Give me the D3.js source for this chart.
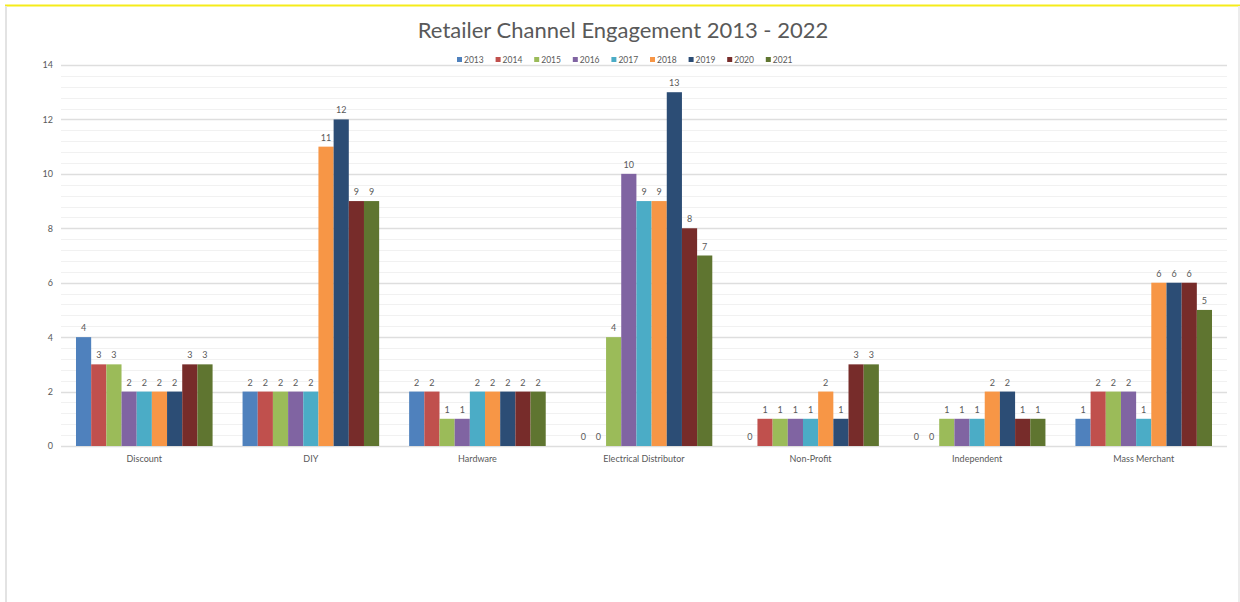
<!DOCTYPE html>
<html>
<head>
<meta charset="utf-8">
<script src="https://cdn.jsdelivr.net/npm/d3@7"></script>
<style>
  body { margin: 0; background: #fff; }
  svg { display: block; font-family: Lato, "Open Sans", sans-serif; }
</style>
</head>
<body>
<div id="chart"></div>
<script>
// Données
const categories = ["Discount", "DIY", "Hardware", "Electrical Distributor", "Non-Profit", "Independent", "Mass Merchant"];
const years = ["2013", "2014", "2015", "2016", "2017", "2018", "2019", "2020", "2021"];
const colors = ["#4f81bd", "#c0504d", "#9bbb59", "#8064a2", "#4bacc6", "#f79646", "#2c4d75", "#772c2a", "#5f7530"];
// une ligne par catégorie, une valeur par année
const values = [
  [4, 3, 3, 2, 2, 2, 2, 3, 3],
  [2, 2, 2, 2, 2, 11, 12, 9, 9],
  [2, 2, 1, 1, 2, 2, 2, 2, 2],
  [0, 0, 4, 10, 9, 9, 13, 8, 7],
  [0, 1, 1, 1, 1, 2, 1, 3, 3],
  [0, 0, 1, 1, 1, 2, 2, 1, 1],
  [1, 2, 2, 2, 1, 6, 6, 6, 5]
];
const yTicks = [0, 2, 4, 6, 8, 10, 12, 14];

const W = 1240, H = 602;
const svg = d3.select("#chart").append("svg")
  .attr("width", W).attr("height", H);

// cadre
svg.append("line").attr("x1", 5).attr("x2", W).attr("y1", 5.5).attr("y2", 5.5)
  .attr("stroke", "#f5ec1a").attr("stroke-width", 2);
svg.append("line").attr("x1", 6).attr("x2", 6).attr("y1", 6).attr("y2", H)
  .attr("stroke", "#e3e3e3").attr("stroke-width", 2);
svg.append("line").attr("x1", 1239).attr("x2", 1239).attr("y1", 6).attr("y2", H)
  .attr("stroke", "#ececec").attr("stroke-width", 2);

const plotLeft = 61, plotRight = 1227, plotTop = 65, plotBottom = 446;

const x0 = d3.scaleBand().domain(categories).range([plotLeft, plotRight])
  .paddingInner(0.18).paddingOuter(0.09);
const x1 = d3.scaleBand().domain(years).range([0, x0.bandwidth()]);
const y = d3.scaleLinear().domain([0, 14]).range([plotBottom, plotTop]);

// grille secondaire
const minor = d3.range(0, 14.01, 0.4);
svg.append("g").selectAll("line").data(minor).enter().append("line")
  .attr("x1", plotLeft).attr("x2", plotRight)
  .attr("y1", d => Math.round(y(d)) + 0.5).attr("y2", d => Math.round(y(d)) + 0.5)
  .attr("stroke", "#f1f1f1");

// grille principale
svg.append("g").selectAll("line").data(yTicks).enter().append("line")
  .attr("x1", plotLeft).attr("x2", plotRight)
  .attr("y1", d => Math.round(y(d)) + 0.5).attr("y2", d => Math.round(y(d)) + 0.5)
  .attr("stroke", "#dedede").attr("stroke-width", 1.5);

// axe Y
const yAxis = svg.append("g").attr("transform", "translate(" + (plotLeft - 8) + ",0)")
  .call(d3.axisLeft(y).tickValues(yTicks).tickSize(0).tickPadding(0));
yAxis.select(".domain").remove();
yAxis.selectAll("text").attr("fill", "#595959").style("font-size", "9px")
  .style("font-family", "Lato, sans-serif");

// axe X
const xAxis = svg.append("g").attr("transform", "translate(0," + plotBottom + ")")
  .call(d3.axisBottom(x0).tickSize(0).tickPadding(10));
xAxis.select(".domain").remove();
xAxis.selectAll("text").attr("fill", "#595959").style("font-size", "9px")
  .style("font-family", "Lato, sans-serif");

// barres
const groups = svg.append("g").selectAll("g").data(values).enter().append("g")
  .attr("transform", (d, i) => "translate(" + x0(categories[i]) + ",0)");

groups.selectAll("rect").data(d => d).enter().append("rect")
  .attr("x", (d, i) => x1(years[i]))
  .attr("y", d => y(d))
  .attr("width", x1.bandwidth())
  .attr("height", d => y(0) - y(d))
  .attr("fill", (d, i) => colors[i]);

// étiquettes de données
groups.selectAll("text").data(d => d).enter().append("text")
  .attr("x", (d, i) => x1(years[i]) + x1.bandwidth() / 2)
  .attr("y", d => y(d) - 6)
  .attr("text-anchor", "middle")
  .attr("fill", "#595959")
  .style("font-size", "9px")
  .text(d => d);

// titre
svg.append("text").attr("x", 623).attr("y", 38)
  .attr("text-anchor", "middle").attr("fill", "#595959")
  .style("font-size", "22px")
  .text("Retailer Channel Engagement 2013 - 2022");

// légende
const legend = svg.append("g").attr("transform", "translate(457,60)");
const item = legend.selectAll("g").data(years).enter().append("g")
  .attr("transform", (d, i) => "translate(" + (i * 38.6) + ",0)");
item.append("rect").attr("x", 0).attr("y", -3).attr("width", 5).attr("height", 5)
  .attr("fill", (d, i) => colors[i]);
item.append("text").attr("x", 7).attr("y", 3)
  .attr("fill", "#595959").style("font-size", "8.5px")
  .text(d => d);
</script>
</body>
</html>
